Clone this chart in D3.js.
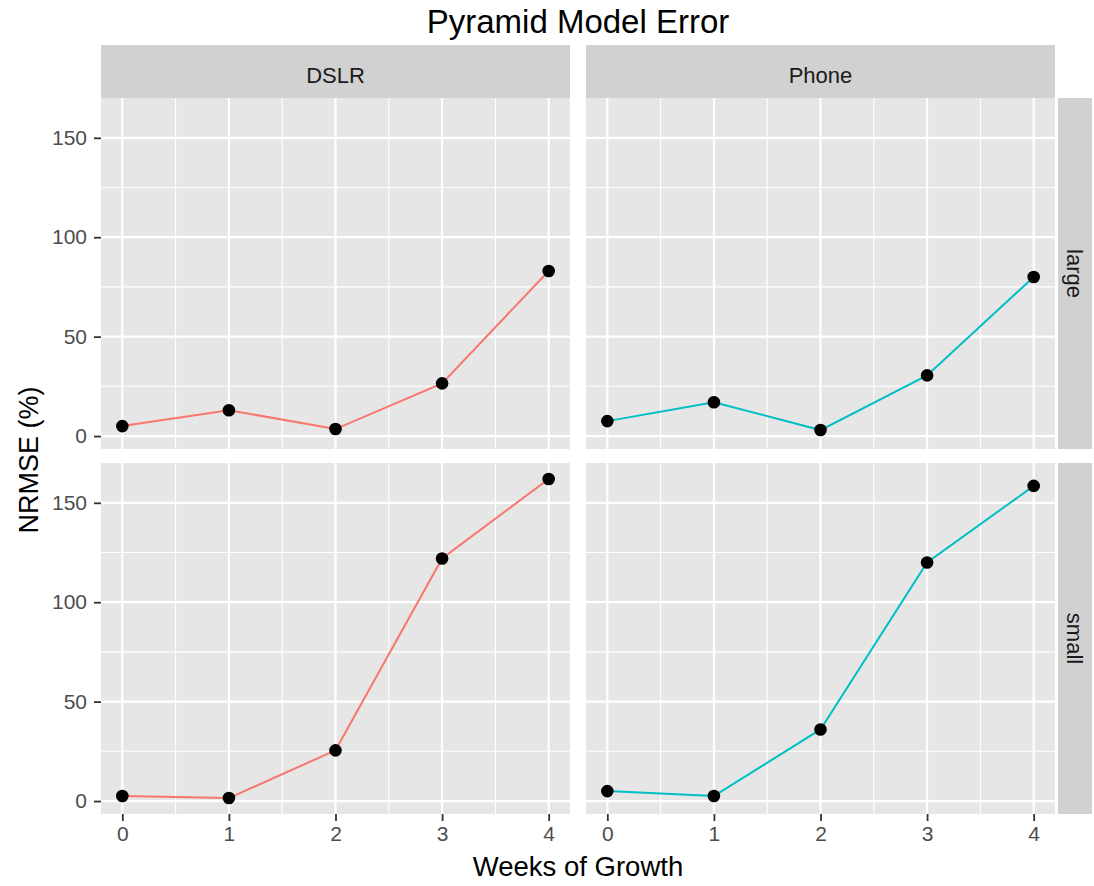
<!DOCTYPE html>
<html>
<head>
<meta charset="utf-8">
<script src="https://cdn.jsdelivr.net/npm/d3@7"></script>
<style>
  body { margin: 0; background: #fff; }
  svg { display: block; font-family: "Liberation Sans", Arial, sans-serif; }
</style>
</head>
<body>
<svg id="chart" width="1094" height="886"></svg>
<script>
// Weeks of growth on the x axis
const weeks = [0, 1, 2, 3, 4];
// Facet levels
const cameras = ["DSLR", "Phone"];
const sizes = ["large", "small"];
// NRMSE (%) per camera and plant size
const dslrLarge = [5, 13, 3.5, 26.5, 83];
const phoneLarge = [7.5, 17, 3, 30.5, 80];
const dslrSmall = [2.5, 1.5, 25.5, 122, 162];
const phoneSmall = [5, 2.5, 36, 120, 158.5];
const yTicks = [0, 50, 100, 150];
const yMinor = [25, 75, 125];
const xMinor = [0.5, 1.5, 2.5, 3.5];
const cameraColors = ["#F8766D", "#00BFC4"];

const panels = [
  { cam: 0, size: 0, values: dslrLarge },
  { cam: 1, size: 0, values: phoneLarge },
  { cam: 0, size: 1, values: dslrSmall },
  { cam: 1, size: 1, values: phoneSmall }
];

const svg = d3.select("#chart");

// Panel geometry
const colX = [101, 586];
const panelW = 469;
const rowY = [98, 463];
const panelH = 351;
const stripH = 53;
const stripW = 34;
const panelBg = "#E6E6E6";
const stripBg = "#D1D1D1";

// Shared scales (5% expansion on each side)
const allVals = [].concat(dslrLarge, phoneLarge, dslrSmall, phoneSmall);
const [yMin, yMax] = d3.extent(allVals);
const yPad = (yMax - yMin) * 0.05;
const xPad = (d3.max(weeks) - d3.min(weeks)) * 0.05;

const x = d3.scaleLinear().domain([d3.min(weeks) - xPad, d3.max(weeks) + xPad]).range([0, panelW]);
const y = d3.scaleLinear().domain([yMin - yPad, yMax + yPad]).range([panelH, 0]);

const centerX = colX[0] + (colX[1] + panelW - colX[0]) / 2;

// Title
svg.append("text")
  .attr("x", centerX)
  .attr("y", 33)
  .attr("text-anchor", "middle")
  .attr("font-size", 33)
  .attr("fill", "#000")
  .text("Pyramid Model Error");

// Column strips
cameras.forEach((c, i) => {
  svg.append("rect")
    .attr("x", colX[i]).attr("y", rowY[0] - stripH)
    .attr("width", panelW).attr("height", stripH)
    .attr("fill", stripBg);
  svg.append("text")
    .attr("x", colX[i] + panelW / 2).attr("y", rowY[0] - stripH / 2 + 4)
    .attr("dy", "0.35em")
    .attr("text-anchor", "middle")
    .attr("font-size", 22)
    .attr("fill", "#1A1A1A")
    .text(c);
});

// Row strips
sizes.forEach((s, j) => {
  const sx = colX[1] + panelW + 3;
  svg.append("rect")
    .attr("x", sx).attr("y", rowY[j])
    .attr("width", stripW).attr("height", panelH)
    .attr("fill", stripBg);
  svg.append("text")
    .attr("transform", `translate(${sx + stripW / 2},${rowY[j] + panelH / 2}) rotate(90)`)
    .attr("dy", "0.35em")
    .attr("text-anchor", "middle")
    .attr("font-size", 22)
    .attr("fill", "#1A1A1A")
    .text(s);
});

const line = d3.line().x((d, i) => x(weeks[i])).y(d => y(d));

function styleAxis(ax) {
  ax.select(".domain").remove();
  ax.selectAll(".tick line").attr("stroke", "#333").attr("stroke-width", 1.8);
  ax.selectAll(".tick text").attr("font-size", 21).attr("fill", "#4D4D4D")
    .attr("font-family", "'Liberation Sans', Arial, sans-serif");
}

panels.forEach(p => {
  const g = svg.append("g").attr("transform", `translate(${colX[p.cam]},${rowY[p.size]})`);
  g.append("rect").attr("width", panelW).attr("height", panelH).attr("fill", panelBg);

  // Minor grid
  g.selectAll(".ymin").data(yMinor).enter().append("line")
    .attr("x1", 0).attr("x2", panelW)
    .attr("y1", d => y(d)).attr("y2", d => y(d))
    .attr("stroke", "#fff").attr("stroke-width", 1.1);
  g.selectAll(".xmin").data(xMinor).enter().append("line")
    .attr("y1", 0).attr("y2", panelH)
    .attr("x1", d => x(d)).attr("x2", d => x(d))
    .attr("stroke", "#fff").attr("stroke-width", 1.1);
  // Major grid
  g.selectAll(".ymaj").data(yTicks).enter().append("line")
    .attr("x1", 0).attr("x2", panelW)
    .attr("y1", d => y(d)).attr("y2", d => y(d))
    .attr("stroke", "#fff").attr("stroke-width", 2.2);
  g.selectAll(".xmaj").data(weeks).enter().append("line")
    .attr("y1", 0).attr("y2", panelH)
    .attr("x1", d => x(d)).attr("x2", d => x(d))
    .attr("stroke", "#fff").attr("stroke-width", 2.2);

  // Series line and points
  g.append("path")
    .datum(p.values)
    .attr("d", line)
    .attr("fill", "none")
    .attr("stroke", cameraColors[p.cam])
    .attr("stroke-width", 2);
  g.selectAll(".pt").data(p.values).enter().append("circle")
    .attr("cx", (d, i) => x(weeks[i]))
    .attr("cy", d => y(d))
    .attr("r", 6.3)
    .attr("fill", "#000");

  // Left axis for first column
  if (p.cam === 0) {
    const ax = g.append("g").call(d3.axisLeft(y).tickValues(yTicks).tickSize(7).tickPadding(7));
    styleAxis(ax);
  }
  // Bottom axis for last row
  if (p.size === 1) {
    const ax = g.append("g").attr("transform", `translate(0,${panelH})`)
      .call(d3.axisBottom(x).tickValues(weeks).tickFormat(d3.format("d")).tickSize(7).tickPadding(5));
    styleAxis(ax);
  }
});

// Axis titles
svg.append("text")
  .attr("x", centerX)
  .attr("y", 876)
  .attr("text-anchor", "middle")
  .attr("font-size", 27.5)
  .attr("fill", "#000")
  .text("Weeks of Growth");

svg.append("text")
  .attr("transform", `translate(38,${(rowY[0] + rowY[1] + panelH) / 2 + 4}) rotate(-90)`)
  .attr("text-anchor", "middle")
  .attr("font-size", 27)
  .attr("fill", "#000")
  .text("NRMSE (%)");
</script>
</body>
</html>
